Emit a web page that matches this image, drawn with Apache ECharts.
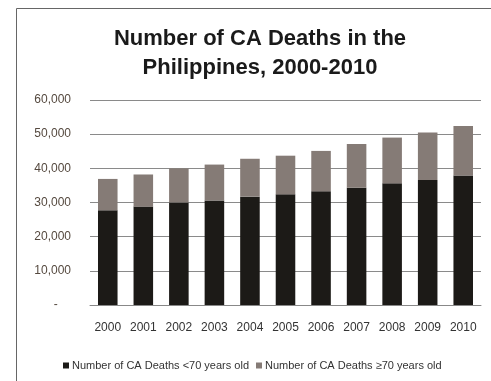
<!DOCTYPE html>
<html>
<head>
<meta charset="utf-8">
<script src="https://cdn.jsdelivr.net/npm/echarts@6/dist/echarts.min.js"></script>
<style>
  html, body { margin: 0; padding: 0; background: #fff; }
  #chart { width: 491px; height: 381px; }
</style>
</head>
<body>
<div id="chart"></div>
<script>
// Years on the category axis
var years = ['2000', '2001', '2002', '2003', '2004', '2005', '2006', '2007', '2008', '2009', '2010'];
// Cancer deaths among people younger than 70
var under70 = [27700, 28800, 30000, 30600, 31700, 32400, 33300, 34300, 35600, 36600, 37900];
// Cancer deaths among people aged 70 and over
var over70 = [9200, 9400, 10000, 10500, 11100, 11300, 11800, 12800, 13400, 13900, 14500];
// Value-axis ticks
var yTicks = [0, 10000, 20000, 30000, 40000, 50000, 60000];

var seriesNames = ['Number of CA Deaths <70 years old', 'Number of CA Deaths \u226570 years old'];
var font = '"Liberation Sans", Arial, sans-serif';

var chart = echarts.init(document.getElementById('chart'), null, { renderer: 'canvas' });

chart.setOption({
  backgroundColor: '#ffffff',
  animation: false,
  title: {
    text: 'Number of CA Deaths in the\nPhilippines, 2000-2010',
    left: 255,
    top: 19,
    textAlign: 'center',
    textStyle: {
      fontFamily: font,
      fontSize: 22,
      fontWeight: 'bold',
      color: '#1a1a1a',
      lineHeight: 29
    }
  },
  graphic: [{
    type: 'rect',
    shape: { x: 16.5, y: 8.5, width: 520, height: 420 },
    style: { fill: 'none', stroke: '#666', lineWidth: 1 },
    silent: true
  }],
  legend: {
    bottom: 5,
    left: 58,
    itemWidth: 6,
    itemHeight: 6,
    itemGap: 7,
    icon: 'rect',
    textStyle: { fontFamily: font, fontSize: 11, color: '#333', padding: [0, 0, 0, -2] },
    data: seriesNames
  },
  grid: { left: 90, right: 10, top: 100, bottom: 76 },
  xAxis: {
    type: 'category',
    data: years,
    axisTick: { show: false },
    axisLine: { lineStyle: { color: '#888', width: 1 } },
    axisLabel: { fontFamily: font, fontSize: 12, color: '#333', margin: 17 }
  },
  yAxis: {
    type: 'value',
    min: yTicks[0],
    max: yTicks[yTicks.length - 1],
    interval: 10000,
    axisLine: { show: false },
    axisTick: { show: false },
    splitLine: { lineStyle: { color: '#8a8a8a', width: 1 } },
    axisLabel: {
      fontFamily: font,
      fontSize: 12,
      color: '#55493f',
      margin: 19,
      formatter: function (v) {
        return v === 0 ? '-    ' : v.toLocaleString('en-US');
      }
    }
  },
  series: [{
    name: seriesNames[0],
    type: 'bar',
    stack: 'deaths',
    barWidth: '55%',
    itemStyle: { color: '#1c1a17' },
    data: under70
  }, {
    name: seriesNames[1],
    type: 'bar',
    stack: 'deaths',
    barWidth: '55%',
    itemStyle: { color: '#857b76' },
    data: over70
  }]
});
</script>
</body>
</html>
